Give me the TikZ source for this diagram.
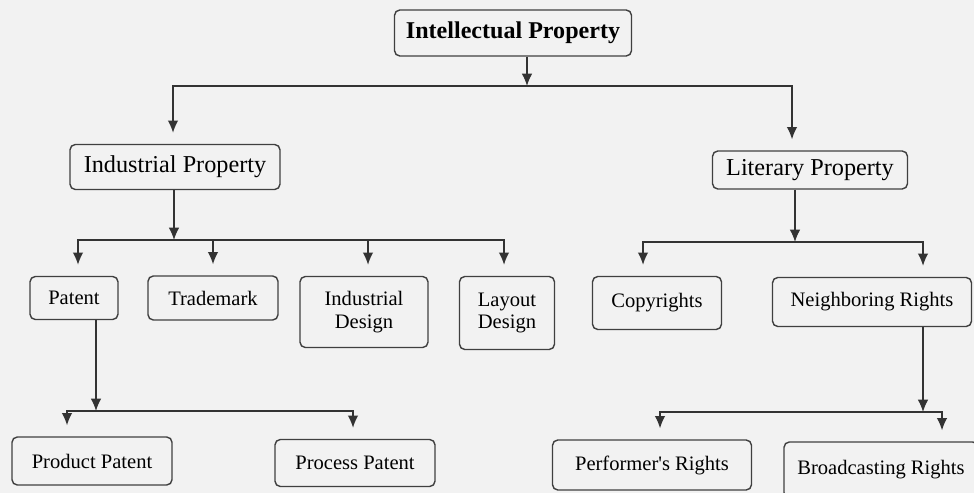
\documentclass[tikz,border=0pt]{standalone}
\usepackage{fontspec}
\setmainfont{Liberation Serif}
\usetikzlibrary{arrows.meta}

\begin{document}
\begin{tikzpicture}[x=0.02cm, y=-0.02cm,
        box/.style={draw=black!75, line width=0.8pt, rounded corners=3pt, inner sep=0pt, align=center, font=\fontsize{11.7}{13}\selectfont},
        big/.style={font=\fontsize{13.8}{15}\selectfont},
        link/.style={-{Latex[length=7pt,width=6pt]}, draw=black!80, line width=0.75pt, shorten >=0.22cm},
        stem/.style={-{Latex[length=7pt,width=6pt]}, draw=black!80, line width=0.75pt}]

        \fill[black!5] (0,0) rectangle (974,493);
        \useasboundingbox (0,0) rectangle (974,493);

        % boxes
        \node[box, font=\bfseries\fontsize{13.7}{15}\selectfont, minimum width=4.74cm, minimum height=0.92cm] (IP) at (513,33) {Intellectual Property};
        \node[box, big, minimum width=4.2cm, minimum height=0.9cm] (IndProp) at (175,167) {Industrial Property};
        \node[box, big, minimum width=3.9cm, minimum height=0.76cm] (LitProp) at (810,170) {Literary Property};
        \node[box, minimum width=1.76cm, minimum height=0.86cm] (Patent) at (74,298) {Patent};
        \node[box, minimum width=2.6cm, minimum height=0.88cm] (Trademark) at (213,298) {Trademark};
        \node[box, minimum width=2.56cm, minimum height=1.42cm] (IndDesign) at (364,312) {Industrial\\Design};
        \node[box, minimum width=1.9cm, minimum height=1.46cm] (LayDesign) at (507,313) {Layout\\Design};
        \node[box, minimum width=2.58cm, minimum height=1.06cm] (Copyrights) at (657,303) {Copyrights};
        \node[box, minimum width=3.98cm, minimum height=0.98cm] (Neighboring) at (872,302) {Neighboring Rights};
        \node[box, minimum width=3.2cm, minimum height=0.96cm] (Product) at (92,461) {Product Patent};
        \node[box, minimum width=3.2cm, minimum height=0.94cm] (Process) at (355,463) {Process Patent};
        \node[box, minimum width=3.98cm, minimum height=1.0cm] (Performer) at (652,465) {Performer\textquotesingle s Rights};
        \node[box, minimum width=3.88cm, minimum height=1.12cm] (Broadcasting) at (881,470) {Broadcasting Rights};

        % junctions and arrow columns
        \coordinate (top) at (527,86);
        \coordinate (ind) at (174,240);
        \coordinate (lit) at (795,242);
        \coordinate (pat) at (96,411);
        \coordinate (nbr) at (923,412);
        \coordinate (ipx) at (173,0);
        \coordinate (lpx) at (792,0);
        \coordinate (pax) at (78,0);
        \coordinate (idx) at (368,0);
        \coordinate (ldx) at (504,0);
        \coordinate (cpx) at (643,0);
        \coordinate (nrx) at (923,0);
        \coordinate (ppx) at (67,0);
        \coordinate (prx) at (353,0);
        \coordinate (pfx) at (660,0);
        \coordinate (brx) at (942,0);

        % connectors
        \draw[stem] (top |- IP.south) -- (top);
        \draw[link] (top) -| (ipx |- IndProp.north);
        \draw[link] (top) -| (lpx |- LitProp.north);

        \draw[stem] (ind |- IndProp.south) -- (ind);
        \draw[link] (ind) -| (pax |- Patent.north);
        \draw[link] (ind) -| (Trademark.north);
        \draw[link] (ind) -| (idx |- IndDesign.north);
        \draw[link] (ind) -| (ldx |- LayDesign.north);

        \draw[stem] (lit |- LitProp.south) -- (lit);
        \draw[link] (lit) -| (cpx |- Copyrights.north);
        \draw[link] (lit) -| (nrx |- Neighboring.north);

        \draw[stem] (pat |- Patent.south) -- (pat);
        \draw[link] (pat) -| (ppx |- Product.north);
        \draw[link] (pat) -| (prx |- Process.north);

        \draw[stem] (nbr |- Neighboring.south) -- (nbr);
        \draw[link] (nbr) -| (pfx |- Performer.north);
        \draw[link] (nbr) -| (brx |- Broadcasting.north);

\end{tikzpicture}
\end{document}
